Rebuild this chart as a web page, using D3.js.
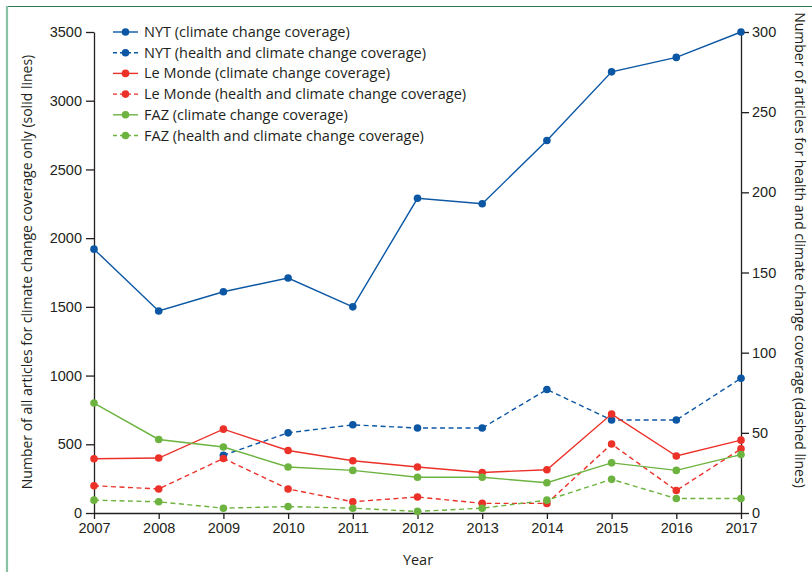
<!DOCTYPE html>
<html>
<head>
<meta charset="utf-8">
<script src="https://cdn.jsdelivr.net/npm/d3@7"></script>
<style>
  body { margin: 0; background: #fff; }
  svg { display: block; font-family: "Open Sans", sans-serif; }
</style>
</head>
<body>
<svg id="chart"></svg>
<script>
const years = [2007, 2008, 2009, 2010, 2011, 2012, 2013, 2014, 2015, 2016, 2017];
// solid lines, left axis
const nytClimate = [1920, 1470, 1610, 1710, 1500, 2290, 2250, 2710, 3210, 3315, 3500];
const lmClimate = [395, 400, 610, 455, 380, 335, 295, 315, 720, 415, 530];
const fazClimate = [800, 535, 480, 335, 310, 260, 260, 220, 365, 310, 425];
// dashed lines, right axis (NYT starts in 2009)
const nytHealth = [null, null, 36, 50, 55, 53, 53, 77, 58, 58, 84];
const lmHealth = [17, 15, 34, 15, 7, 10, 6, 6, 43, 14, 40];
const fazHealth = [8, 7, 3, 4, 3, 1, 3, 8, 21, 9, 9];
const leftTicks = [0, 500, 1000, 1500, 2000, 2500, 3000, 3500];
const rightTicks = [0, 50, 100, 150, 200, 250, 300];

const width = 812, height = 572;
const margin = {left: 94, right: 71, top: 32, bottom: 59};
const textColor = "#231f20";

const series = [
    {name: "NYT (climate change coverage)", values: nytClimate, color: "#0b57a4", dashed: false},
    {name: "NYT (health and climate change coverage)", values: nytHealth, color: "#0b57a4", dashed: true},
    {name: "Le Monde (climate change coverage)", values: lmClimate, color: "#ec3129", dashed: false},
    {name: "Le Monde (health and climate change coverage)", values: lmHealth, color: "#ec3129", dashed: true},
    {name: "FAZ (climate change coverage)", values: fazClimate, color: "#6cb33f", dashed: false},
    {name: "FAZ (health and climate change coverage)", values: fazHealth, color: "#6cb33f", dashed: true}
];

const svg = d3.select("#chart").attr("width", width).attr("height", height);

// page frame
svg.append("line").attr("x1", 7).attr("x2", width).attr("y1", 6.5).attr("y2", 6.5)
    .attr("stroke", "#2b7a52").attr("stroke-width", 1.2);
svg.append("line").attr("x1", 7).attr("x2", 7).attr("y1", 6).attr("y2", height)
    .attr("stroke", "#86c2a3").attr("stroke-width", 2.2);

const x = d3.scaleLinear().domain([2007, 2017]).range([margin.left, width - margin.right]);
const yLeft = d3.scaleLinear().domain([0, 3500]).range([height - margin.bottom, margin.top]);
const yRight = d3.scaleLinear().domain([0, 300]).range([height - margin.bottom, margin.top]);

function styleAxis(g) {
    g.select(".domain").attr("stroke", textColor).attr("stroke-width", 1.3);
    g.selectAll(".tick line").attr("stroke", textColor).attr("stroke-width", 1.3);
    g.selectAll(".tick text").attr("fill", textColor).style("font-size", "14.5px");
}

svg.append("g").attr("transform", `translate(${margin.left},0)`)
    .call(d3.axisLeft(yLeft).tickValues(leftTicks).tickFormat(d3.format("d"))
        .tickSize(8).tickPadding(4).tickSizeOuter(0))
    .call(styleAxis);
svg.append("g").attr("transform", `translate(${width - margin.right},0)`)
    .call(d3.axisRight(yRight).tickValues(rightTicks).tickFormat(d3.format("d"))
        .tickSize(8).tickPadding(3).tickSizeOuter(0))
    .call(styleAxis);
svg.append("g").attr("transform", `translate(0,${height - margin.bottom})`)
    .call(d3.axisBottom(x).tickValues(years).tickFormat(d3.format("d")).tickSize(6).tickPadding(4).tickSizeOuter(0))
    .call(styleAxis);

// axis titles
svg.append("text").attr("transform", `translate(32,272) rotate(-90)`)
    .attr("text-anchor", "middle").attr("fill", textColor).style("font-size", "14px")
    .text("Number of all articles for climate change coverage only (solid lines)");
svg.append("text").attr("transform", `translate(795,250) rotate(90)`)
    .attr("text-anchor", "middle").attr("fill", textColor).style("font-size", "14px")
    .text("Number of articles for health and climate change coverage (dashed lines)");
svg.append("text").attr("x", 418).attr("y", 565)
    .attr("text-anchor", "middle").attr("fill", textColor).style("font-size", "14.5px")
    .text("Year");

// lines and points
series.forEach(s => {
    const yScale = s.dashed ? yRight : yLeft;
    const pts = years.map((yr, i) => ({yr: yr, v: s.values[i]})).filter(d => d.v !== null);
    const line = d3.line().x(d => x(d.yr)).y(d => yScale(d.v));
    svg.append("path").datum(pts)
        .attr("d", line).attr("fill", "none")
        .attr("stroke", s.color).attr("stroke-width", 1.4)
        .attr("stroke-dasharray", s.dashed ? "5,3.5" : null);
    svg.append("g").selectAll("circle").data(pts).enter().append("circle")
        .attr("cx", d => x(d.yr)).attr("cy", d => yScale(d.v))
        .attr("r", 3.8).attr("fill", s.color);
});

// legend
const legend = svg.append("g").attr("transform", "translate(113,32)");
series.forEach((s, i) => {
    const row = legend.append("g").attr("transform", `translate(0,${i * 20.7})`);
    row.append("line").attr("x1", 0).attr("x2", 25).attr("y1", 0).attr("y2", 0)
        .attr("stroke", s.color).attr("stroke-width", 1.4)
        .attr("stroke-dasharray", s.dashed ? "4,3" : null);
    row.append("circle").attr("cx", 12.5).attr("cy", 0).attr("r", 3.8).attr("fill", s.color);
    row.append("text").attr("x", 31).attr("y", 0).attr("dy", "0.35em")
        .attr("fill", textColor).style("font-size", "14.5px").text(s.name);
});
</script>
</body>
</html>
